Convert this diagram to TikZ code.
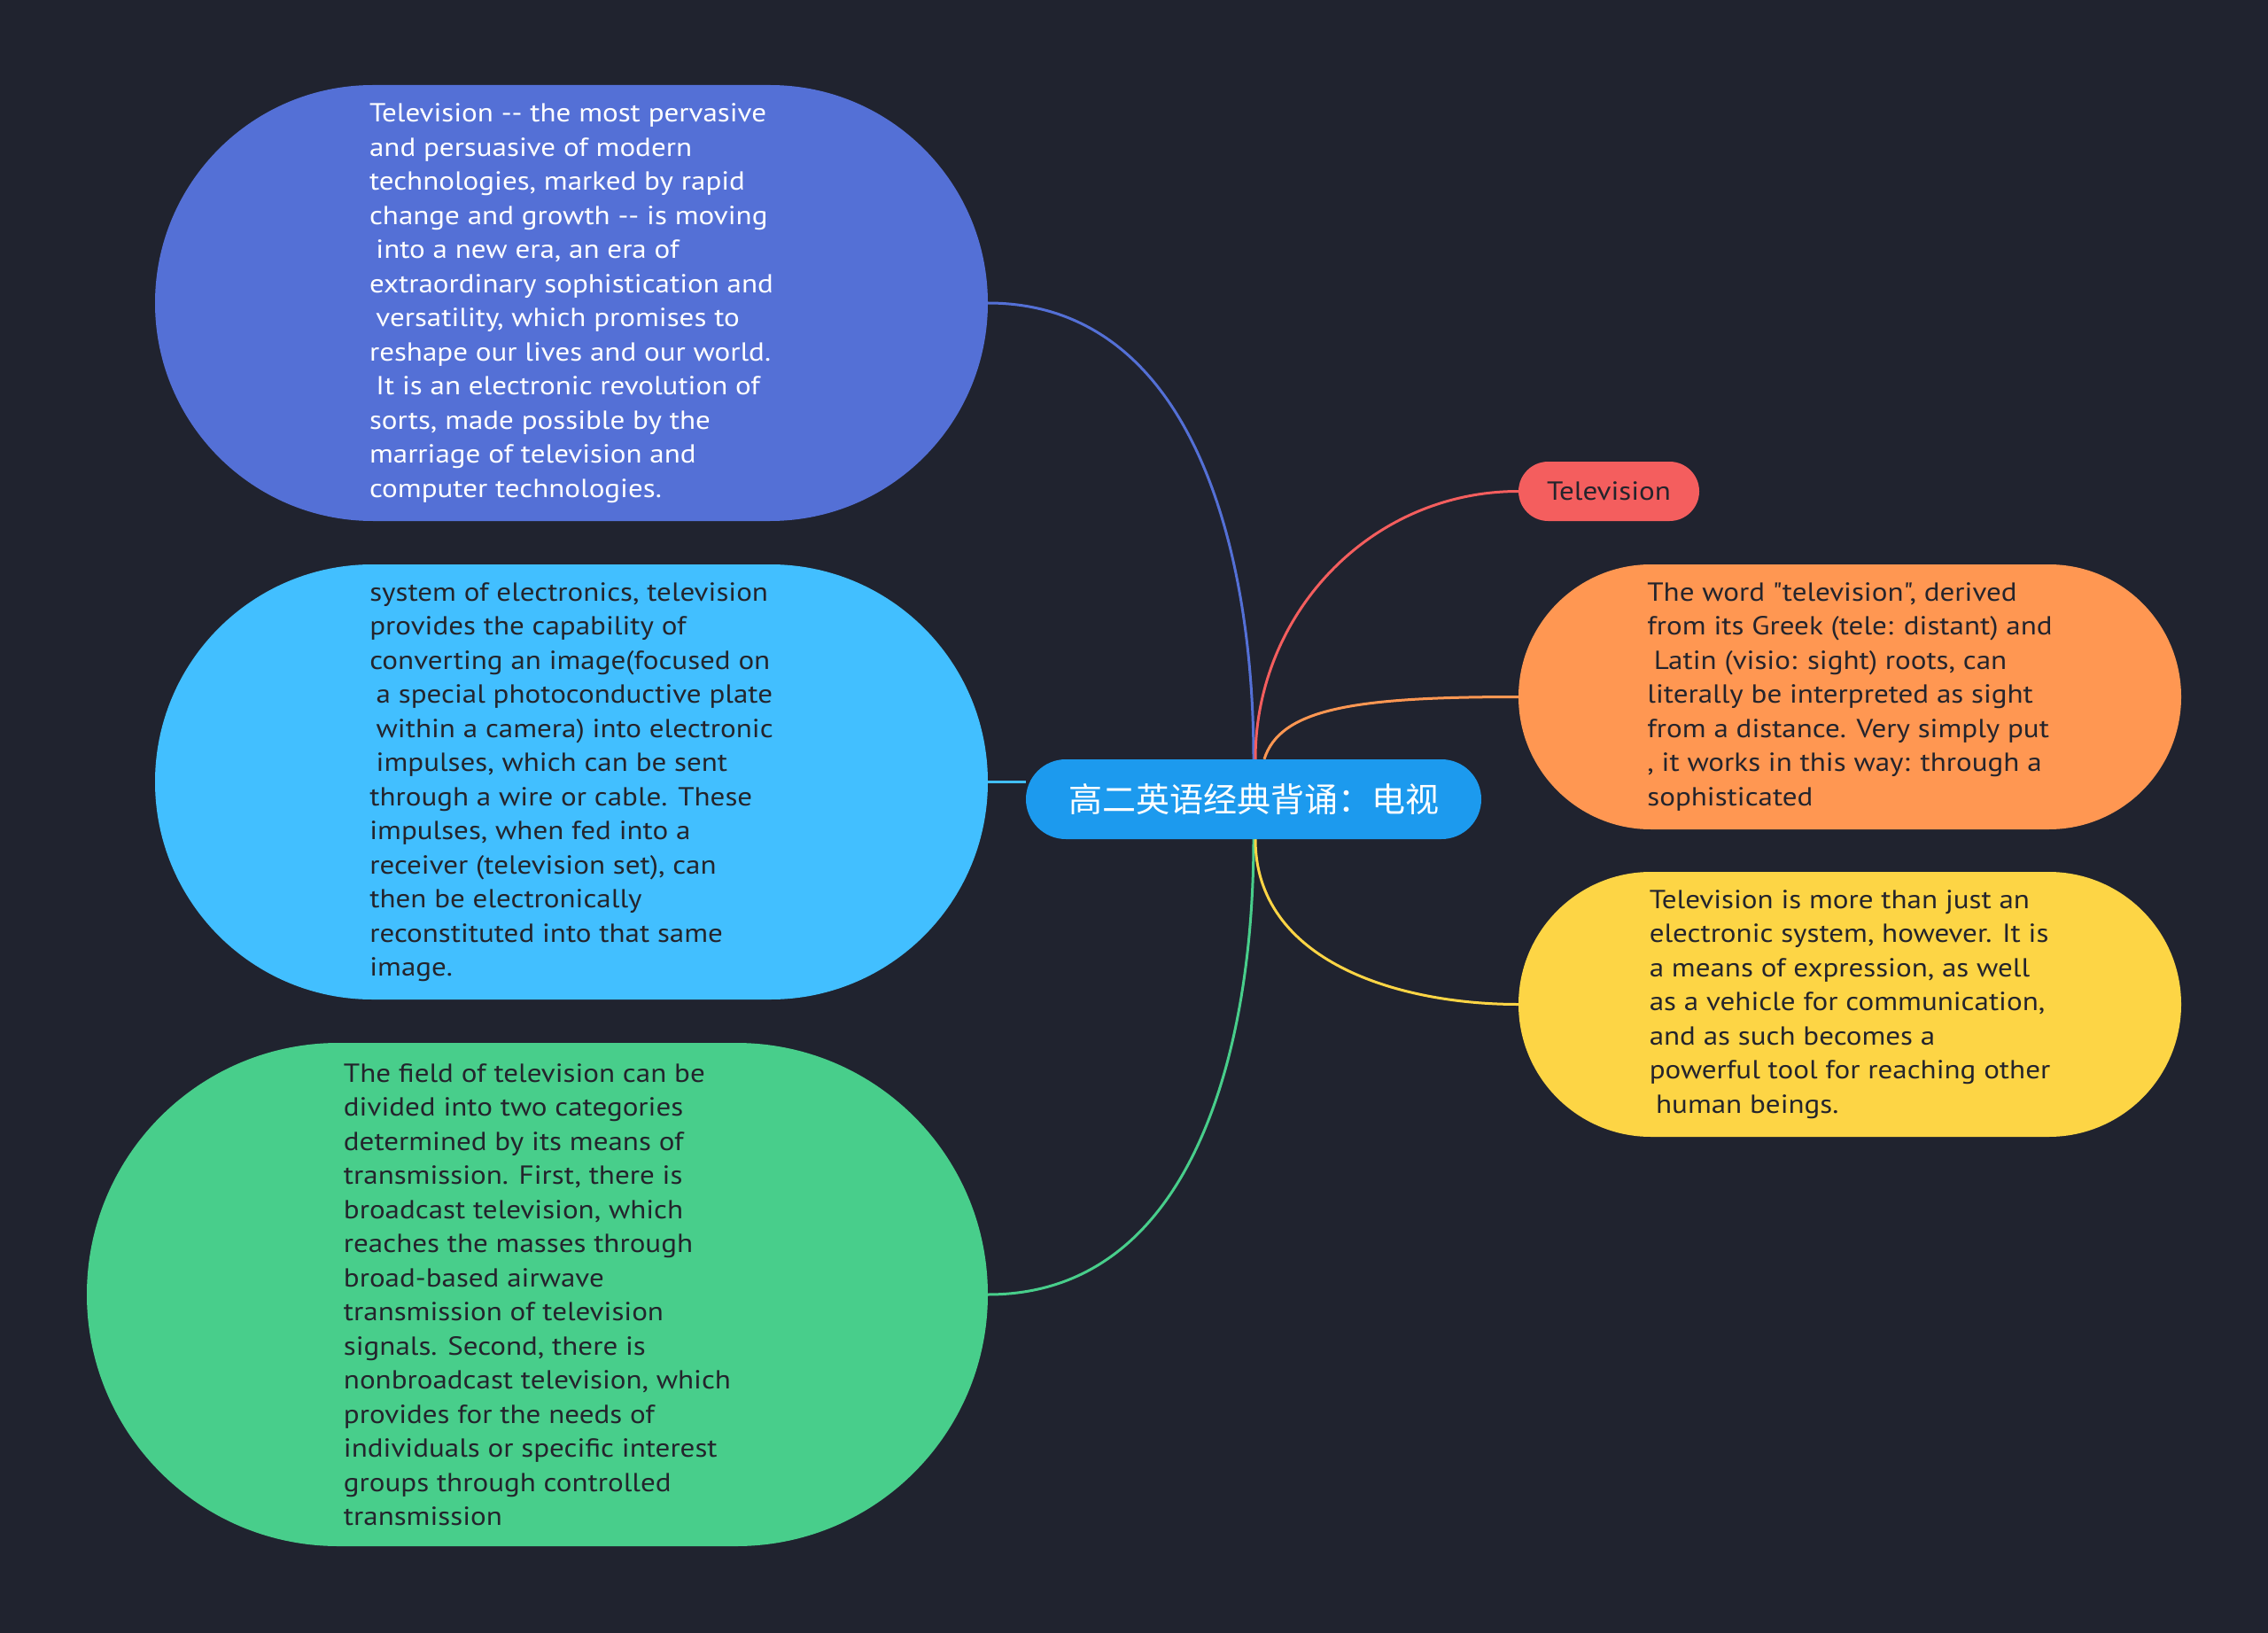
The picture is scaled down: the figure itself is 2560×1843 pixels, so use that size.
\documentclass[tikz,border=0pt]{standalone}
\usepackage{fontspec}
\setmainfont{PT Sans}[FakeStretch=1.12,Ligatures=TeXOff]
\newfontfamily\cjk{Noto Sans CJK SC}
\usetikzlibrary{shapes.misc,backgrounds}
\definecolor{bgc}{RGB}{32,35,47}
\definecolor{cblue}{RGB}{84,112,214}
\definecolor{ccyan}{RGB}{66,191,255}
\definecolor{cgreen}{RGB}{72,206,139}
\definecolor{ccent}{RGB}{28,154,238}
\definecolor{cred}{RGB}{244,94,94}
\definecolor{corange}{RGB}{255,151,82}
\definecolor{cyellow}{RGB}{253,213,69}
\definecolor{dtext}{RGB}{36,36,44}
\newcommand{\ind}{\hspace*{0.25em}}
\tikzset{
  bubble/.style={rounded rectangle, inner sep=0pt, align=left,
    font=\fontsize{29.5}{38.5}\selectfont, text=dtext},
  link/.style={line width=3pt},
}
\begin{document}
\begin{tikzpicture}[x=1pt,y=-1pt]
\useasboundingbox (0,0) rectangle (2560,1843);

\node[bubble, fill=cblue, text=white, minimum width=940pt, minimum height=492pt] (n1) at (645,342) {%
Television -- the most pervasive\\
and persuasive of modern\\
technologies, marked by rapid\\
change and growth -- is moving\\
\ind into a new era, an era of\\
extraordinary sophistication and\\
\ind versatility, which promises to\\
reshape our lives and our world.\\
\ind It is an electronic revolution of\\
sorts, made possible by the\\
marriage of television and\\
computer technologies.};

\node[bubble, fill=ccyan, minimum width=940pt, minimum height=491pt] (n2) at (645,882.5) {%
system of electronics, television\\
provides the capability of\\
converting an image(focused on\\
\ind a special photoconductive plate\\
\ind within a camera) into electronic\\
\ind impulses, which can be sent\\
through a wire or cable. These\\
impulses, when fed into a\\
receiver (television set), can\\
then be electronically\\
reconstituted into that same\\
image.};

\node[bubble, fill=cgreen, minimum width=1017pt, minimum height=568pt] (n3) at (606.5,1461) {%
The field of television can be\\
divided into two categories\\
determined by its means of\\
transmission. First, there is\\
broadcast television, which\\
reaches the masses through\\
broad-based airwave\\
transmission of television\\
signals. Second, there is\\
nonbroadcast television, which\\
provides for the needs of\\
individuals or specific interest\\
groups through controlled\\
transmission};

\node[rounded rectangle, fill=ccent, text=white, inner sep=0pt, minimum width=514pt, minimum height=90pt,
  font=\cjk\fontsize{38}{44}\selectfont] (c) at (1415,902) {高二英语经典背诵：电视};

\node[bubble, fill=cred, minimum width=204pt, minimum height=67pt, align=center] (r) at (1816,554.5) {Television};

\node[bubble, fill=corange, minimum width=748pt, minimum height=299pt] (o) at (2088,786.5) {%
The word "television", derived\\
from its Greek (tele: distant) and\\
\ind Latin (visio: sight) roots, can\\
literally be interpreted as sight\\
from a distance. Very simply put\\
, it works in this way: through a\\
sophisticated};

\node[bubble, fill=cyellow, minimum width=748pt, minimum height=299pt] (y) at (2088,1133.5) {%
Television is more than just an\\
electronic system, however. It is\\
a means of expression, as well\\
as a vehicle for communication,\\
and as such becomes a\\
powerful tool for reaching other\\
\ind human beings.};

\begin{scope}[on background layer]
\fill[bgc] (0,0) rectangle (2560,1843);
\draw[link, cblue] (n1.east) to[out=0,in=90] (c.north);
\draw[link, ccyan] (n2.east) -- (n2.east -| c.west);
\draw[link, cgreen] (c.south) to[out=-90,in=0] (n3.east);
\draw[link, cred] ([xshift=2pt]c.north) to[out=90,in=180] (r.west);
\draw[link, corange] ([xshift=12pt]c.north) .. controls +(18,-57) and +(-185,0) .. (o.west);
\draw[link, cyellow] ([xshift=2pt]c.south) to[out=-90,in=180] (y.west);
\end{scope}
\end{tikzpicture}
\end{document}
